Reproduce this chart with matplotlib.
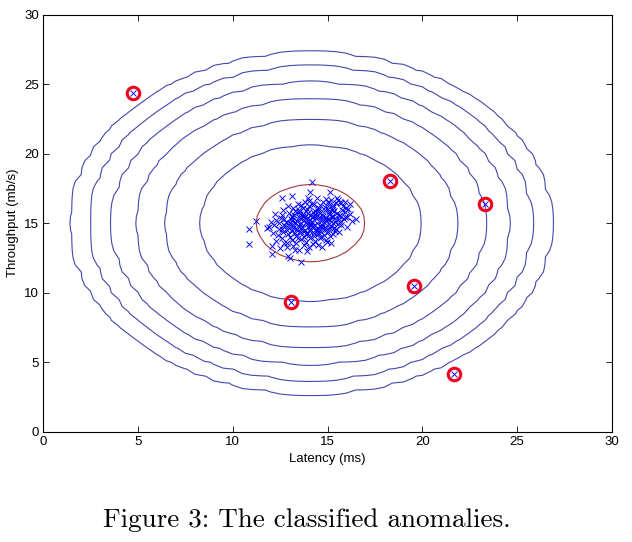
import numpy as np
import matplotlib
matplotlib.use("Agg")
import matplotlib.pyplot as plt

# fitted gaussian
mu = [14.11, 15.00]
sigma2 = [1.83, 1.71]
levels = 10.0 ** np.arange(-20, 1, 3)

# points in the main cluster (latency, throughput)
core = [
    (13.45, 16.35), (13.8, 16.5), (14.3, 16.4), (14.75, 16.55), (15.1, 16.3),
    (15.45, 16.45), (15.8, 16.2), (13.2, 16.1), (14.0, 16.2), (14.55, 16.1),
    (15.0, 16.05), (15.3, 16.15), (16.1, 16.0), (12.9, 16.25),
    (12.6, 15.6), (12.95, 15.75), (13.3, 15.9), (13.55, 15.65), (13.85, 15.85),
    (14.1, 15.6), (14.35, 15.9), (14.6, 15.7), (14.85, 15.95), (15.1, 15.65),
    (15.35, 15.85), (15.6, 15.55), (15.9, 15.8), (16.2, 15.65), (13.1, 15.5),
    (14.25, 15.55), (14.75, 15.5), (15.25, 15.5), (13.7, 15.55), (15.75, 15.95),
    (12.3, 15.2), (12.55, 15.4), (12.8, 15.1), (13.05, 15.3), (13.3, 15.05),
    (13.5, 15.45), (13.75, 15.2), (13.95, 15.4), (14.2, 15.1), (14.4, 15.35),
    (14.65, 15.15), (14.9, 15.4), (15.15, 15.2), (15.4, 15.35), (15.65, 15.1),
    (15.85, 15.3), (16.05, 15.45), (13.15, 15.45), (13.6, 15.0), (14.05, 15.25),
    (14.55, 15.45), (14.8, 15.05), (15.3, 15.0), (12.0, 15.05), (16.3, 15.15),
    (11.9, 14.7), (12.2, 14.85), (12.45, 14.6), (12.7, 14.9), (12.95, 14.65),
    (13.2, 14.8), (13.4, 14.55), (13.65, 14.75), (13.9, 14.95), (14.1, 14.6),
    (14.3, 14.85), (14.5, 14.65), (14.7, 14.9), (14.95, 14.6), (15.2, 14.8),
    (15.45, 14.55), (15.7, 14.85), (13.05, 14.95), (13.55, 14.95), (14.2, 14.75),
    (14.85, 14.75), (15.55, 14.95), (12.6, 14.55), (13.8, 14.5), (14.6, 14.5),
    (12.1, 14.3), (12.4, 14.15), (12.65, 14.4), (12.9, 14.2), (13.15, 14.45),
    (13.35, 14.1), (13.6, 14.35), (13.85, 14.2), (14.05, 14.45), (14.3, 14.05),
    (14.55, 14.3), (14.8, 14.15), (15.05, 14.4), (15.3, 14.2), (15.6, 14.35),
    (13.0, 14.0), (13.75, 14.0), (14.45, 14.45), (15.15, 14.05), (12.85, 14.48),
    (12.3, 13.75), (12.6, 13.9), (12.85, 13.6), (13.1, 13.8), (13.35, 13.55),
    (13.6, 13.85), (13.85, 13.65), (14.1, 13.9), (14.35, 13.7), (14.6, 13.95),
    (14.9, 13.8), (15.2, 13.6), (13.45, 13.95), (14.25, 13.5), (12.7, 13.55),
    (12.5, 13.2), (13.2, 13.35), (13.5, 13.1), (13.75, 13.4), (14.0, 13.25),
    (14.7, 13.3), (13.3, 13.05),
    (15.55, 16.7), (15.2, 16.65), (15.9, 16.5), (16.2, 16.35), (14.9, 16.75),
    (13.25, 15.62), (13.62, 15.28), (13.98, 15.72), (14.42, 15.02), (14.72, 15.62),
    (15.02, 15.28), (13.42, 14.82), (13.78, 14.42), (14.15, 14.88), (14.48, 14.22),
    (14.82, 14.52), (15.12, 14.62), (13.52, 15.82), (13.92, 16.02), (14.62, 16.28),
    (15.22, 15.92), (15.48, 15.72), (13.02, 15.02), (13.28, 14.28), (14.02, 14.12),
    (14.68, 14.02), (15.38, 14.42), (12.78, 14.78), (13.88, 15.12), (14.32, 15.62),
    (14.92, 15.22), (15.58, 15.28), (12.42, 15.02), (13.68, 16.12), (14.18, 16.38),
    (13.38, 15.18), (13.72, 15.68), (14.08, 15.02), (14.38, 15.48), (14.78, 15.32),
    (15.08, 15.82), (15.42, 15.08), (13.18, 14.62), (13.58, 14.62), (13.98, 14.72),
    (14.38, 14.58), (14.72, 14.72), (15.08, 14.92), (15.32, 14.68), (13.48, 15.98),
    (13.82, 15.42), (14.22, 15.82), (14.52, 15.88), (14.88, 16.18), (15.28, 16.32),
    (13.12, 15.22), (13.92, 14.28), (14.28, 14.32), (14.62, 14.82), (15.22, 15.42),
    (15.68, 15.62), (15.98, 16.12), (12.72, 15.28), (13.48, 14.38), (14.18, 15.42),
    (14.48, 16.02), (15.72, 16.42), (14.02, 16.6), (13.62, 16.28), (15.02, 16.5),
    # edge of the cluster
    (14.16, 17.94), (14.07, 17.27), (15.13, 17.22), (12.58, 16.79), (13.11, 16.96),
    (13.98, 16.83), (14.46, 16.79), (15.48, 16.83), (15.66, 16.55), (11.22, 15.18),
    (10.85, 14.56), (10.85, 13.48), (11.79, 14.63), (12.05, 13.38), (12.09, 12.76),
    (12.84, 13.31), (12.93, 12.66), (13.02, 12.47), (13.60, 12.23), (13.90, 13.00),
    (14.48, 13.43), (14.95, 13.67), (16.49, 15.28), (16.01, 14.75), (15.92, 15.47),
    (12.67, 15.95), (12.23, 15.64),
]
# flagged anomalies
anom_x = [4.73, 18.29, 23.31, 19.56, 13.06, 21.67]
anom_y = [24.37, 18.02, 16.37, 10.48, 9.33, 4.15]

core_x = [p[0] for p in core] + anom_x
core_y = [p[1] for p in core] + anom_y

fig = plt.figure(figsize=(6.32, 5.42), dpi=100)
ax = fig.add_axes([0.0685, 0.2035, 0.8995, 0.7695])

g = np.arange(0, 35.5, 0.5)
X1, X2 = np.meshgrid(g, g)
Z = (1.0 / (2 * np.pi * np.sqrt(sigma2[0] * sigma2[1]))) * np.exp(
    -0.5 * ((X1 - mu[0]) ** 2 / sigma2[0] + (X2 - mu[1]) ** 2 / sigma2[1]))

cols = ["#4646aa"] * 6 + ["#a03a3a"]
ax.contour(X1, X2, Z, levels=levels, colors=cols, linewidths=0.8)

ax.plot(core_x, core_y, "x", color="#0000ff", markersize=4, mew=0.65)
ax.plot(anom_x, anom_y, "o", mfc="none", mec="#f0001c", markersize=9, mew=2.2)

ax.set_xlim(0, 30)
ax.set_ylim(0, 30)
ax.set_xticks(range(0, 31, 5))
ax.set_yticks(range(0, 31, 5))
ax.tick_params(direction="in", top=True, right=True, length=4, width=0.6,
               labelsize=9.5, pad=3)
for s in ax.spines.values():
    s.set_linewidth(0.8)
for lab in ax.get_xticklabels() + ax.get_yticklabels():
    lab.set_family("Liberation Sans")

ax.set_xlabel("Latency (ms)", family="Liberation Sans", fontsize=9.5, labelpad=4)
ax.set_ylabel("Throughput (mb/s)", family="Liberation Sans", fontsize=9.5, labelpad=4)

fig.text(0.486, 0.040, "Figure 3: The classified anomalies.", family="cmr10",
         fontsize=19.5, ha="center", va="center")

fig.savefig("out.png", dpi=100)
